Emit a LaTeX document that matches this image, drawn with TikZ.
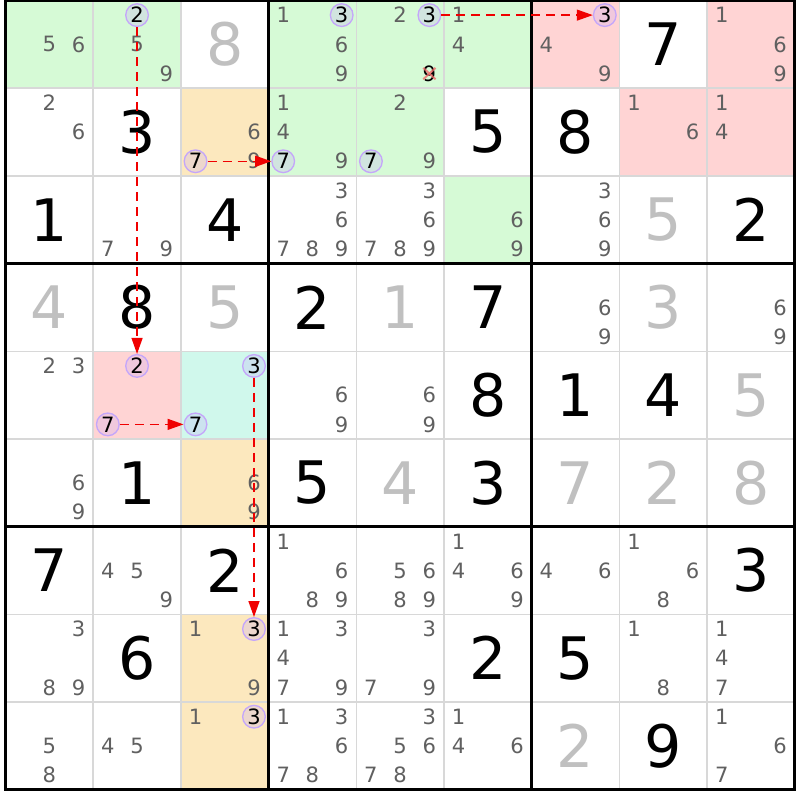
\documentclass[tikz,border=0pt]{standalone}
\usepackage{fontspec}
\setmainfont{DejaVu Sans}
\usetikzlibrary{arrows.meta}

\definecolor{candgray}{RGB}{96,96,96}
\definecolor{solvedgray}{RGB}{192,192,192}
\definecolor{gridgray}{RGB}{216,216,216}
\definecolor{cellgreen}{RGB}{214,250,214}
\definecolor{cellpink}{RGB}{255,212,212}
\definecolor{cellorange}{RGB}{252,232,190}
\definecolor{cellteal}{RGB}{208,248,236}
\definecolor{ringpurple}{RGB}{196,166,250}
\definecolor{linkred}{RGB}{240,0,0}
\definecolor{strikered}{RGB}{240,110,110}

\tikzset{
  given/.style={font=\fontsize{50}{50}\selectfont, text=black, inner sep=0pt},
  solved/.style={given, text=solvedgray},
  cand/.style={font=\fontsize{18}{18}\selectfont, text=candgray, inner sep=0pt},
  pick/.style={cand, text=black, circle, draw=ringpurple, line width=0.04cm, fill=ringpurple, fill opacity=0.25, text opacity=1, minimum size=0.68cm},
  link/.style={linkred, line width=0.04cm, dash pattern=on 0.27cm off 0.18cm, -{Triangle[length=0.48cm,width=0.33cm]}},
  strike/.style={strikered, opacity=0.8, line width=0.06cm},
}

\newcommand{\cands}[4][cand]{%
  \foreach \d in {#4}{%
    \pgfmathtruncatemacro\dx{mod(\d-1,3)}%
    \pgfmathtruncatemacro\dy{div(\d-1,3)}%
    \node[#1] (r#2c#3d\d) at ({#3-1+(\dx+0.5)/3},{#2-1+(\dy+0.5)/3}) {\d};%
  }}
\newcommand{\setval}[4][given]{\node[#1] (v#2#3) at (#3-0.5,#2-0.5) {#4};}

\begin{document}
\begin{tikzpicture}[x=2.631cm,y=-2.631cm]
	\useasboundingbox (-0.0627,-0.0057) rectangle (9.0593,9.1163);
	\fill[white] (-0.0627,-0.0057) rectangle (9.0593,9.1163);

	\foreach \r/\c in {1/1,1/2,1/4,1/5,1/6,2/4,2/5,3/6} \fill[cellgreen] (\c-1,\r-1) rectangle (\c,\r);
	\foreach \r/\c in {1/7,1/9,2/8,2/9,5/2} \fill[cellpink] (\c-1,\r-1) rectangle (\c,\r);
	\foreach \r/\c in {2/3,6/3,8/3,9/3} \fill[cellorange] (\c-1,\r-1) rectangle (\c,\r);
	\fill[cellteal] (2,4) rectangle (3,5);

	\foreach \i in {1,2,4,5,7,8} {
		\draw[gridgray, line width=0.045cm] (\i,0) -- (\i,9);
		\draw[gridgray, line width=0.045cm] (0,\i) -- (9,\i);
	}
	\foreach \i in {3,6} {
		\draw[line width=0.09cm] (\i,0) -- (\i,9);
		\draw[line width=0.09cm] (0,\i) -- (9,\i);
	}
	\draw[line width=0.09cm] (0,0) rectangle (9,9);

	\setval[solved]{1}{3}{8} \setval{1}{8}{7}
	\setval{2}{2}{3} \setval{2}{6}{5} \setval{2}{7}{8}
	\setval{3}{1}{1} \setval{3}{3}{4} \setval[solved]{3}{8}{5} \setval{3}{9}{2}
	\setval[solved]{4}{1}{4} \setval{4}{2}{8} \setval[solved]{4}{3}{5} \setval{4}{4}{2}
	\setval[solved]{4}{5}{1} \setval{4}{6}{7} \setval[solved]{4}{8}{3}
	\setval{5}{6}{8} \setval{5}{7}{1} \setval{5}{8}{4} \setval[solved]{5}{9}{5}
	\setval{6}{2}{1} \setval{6}{4}{5} \setval[solved]{6}{5}{4} \setval{6}{6}{3}
	\setval[solved]{6}{7}{7} \setval[solved]{6}{8}{2} \setval[solved]{6}{9}{8}
	\setval{7}{1}{7} \setval{7}{3}{2} \setval{7}{9}{3}
	\setval{8}{2}{6} \setval{8}{6}{2} \setval{8}{7}{5}
	\setval[solved]{9}{7}{2} \setval{9}{8}{9}

	\cands{1}{1}{5,6} \cands{1}{2}{5,9} \cands{1}{4}{1,6,9} \cands{1}{5}{2}
	\cands{1}{6}{1,4} \cands{1}{7}{4,9} \cands{1}{9}{1,6,9}
	\cands{2}{1}{2,6} \cands{2}{3}{6,9} \cands{2}{4}{1,4,9} \cands{2}{5}{2,9}
	\cands{2}{8}{1,6} \cands{2}{9}{1,4}
	\cands{3}{2}{7,9} \cands{3}{4}{3,6,7,8,9} \cands{3}{5}{3,6,7,8,9}
	\cands{3}{6}{6,9} \cands{3}{7}{3,6,9}
	\cands{4}{7}{6,9} \cands{4}{9}{6,9}
	\cands{5}{1}{2,3} \cands{5}{4}{6,9} \cands{5}{5}{6,9}
	\cands{6}{1}{6,9} \cands{6}{3}{6,9}
	\cands{7}{2}{4,5,9} \cands{7}{4}{1,6,8,9} \cands{7}{5}{5,6,8,9}
	\cands{7}{6}{1,4,6,9} \cands{7}{7}{4,6} \cands{7}{8}{1,6,8}
	\cands{8}{1}{3,8,9} \cands{8}{3}{1,9} \cands{8}{4}{1,3,4,7,9} \cands{8}{5}{3,7,9}
	\cands{8}{8}{1,8} \cands{8}{9}{1,4,7}
	\cands{9}{1}{5,8} \cands{9}{2}{4,5} \cands{9}{3}{1} \cands{9}{4}{1,3,6,7,8}
	\cands{9}{5}{3,5,6,7,8} \cands{9}{6}{1,4,6} \cands{9}{9}{1,6,7}

	\cands[cand,text=black]{1}{5}{9}
	\cands[pick]{1}{2}{2} \cands[pick]{1}{4}{3} \cands[pick]{1}{5}{3} \cands[pick]{1}{7}{3}
	\cands[pick]{2}{3}{7} \cands[pick]{2}{4}{7} \cands[pick]{2}{5}{7}
	\cands[pick]{5}{2}{2,7} \cands[pick]{5}{3}{3,7}
	\cands[pick]{8}{3}{3} \cands[pick]{9}{3}{3}

	\draw[strike] ([shift={(-0.07,-0.065)}]r1c5d9.center) -- ([shift={(0.07,0.065)}]r1c5d9.center);
	\draw[strike] ([shift={(-0.07,0.065)}]r1c5d9.center) -- ([shift={(0.07,-0.065)}]r1c5d9.center);

	\draw[link] (r1c2d2) -- (r5c2d2);
	\draw[link] (r2c3d7) -- (r2c4d7);
	\draw[link] (r1c5d3) -- (r1c7d3);
	\draw[link] (r5c2d7) -- (r5c3d7);
	\draw[link] (r5c3d3) -- (r8c3d3);
\end{tikzpicture}
\end{document}
